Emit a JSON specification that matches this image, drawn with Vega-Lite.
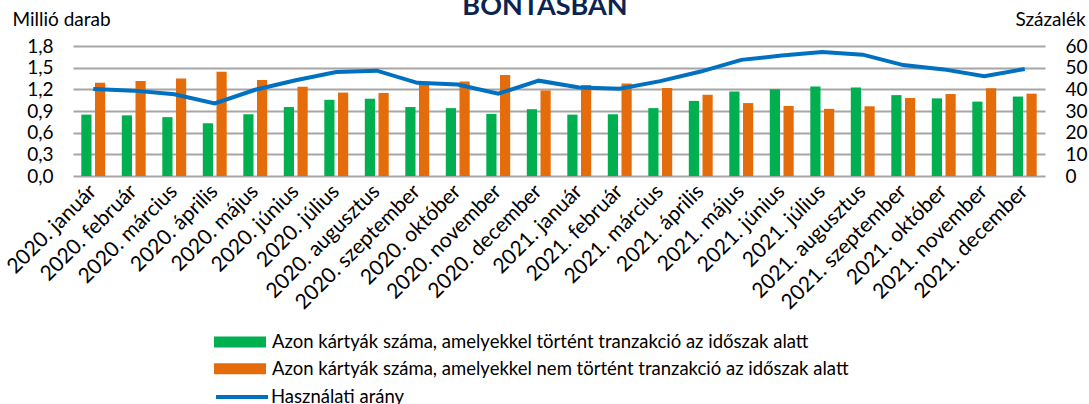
{
  "$schema": "https://vega.github.io/schema/vega-lite/v6.json",
  "width": 972,
  "height": 130,
  "autosize": {"type": "none"},
  "padding": {"left": 73, "top": 46, "right": 44, "bottom": 228},
  "background": "white",
  "config": {
    "font": "Lato",
    "view": {"stroke": null}
  },
  "title": {
    "text": "BONTÁSBAN",
    "fontSize": 27,
    "fontWeight": "bold",
    "color": "#0b2350",
    "font": "Lato",
    "anchor": "middle",
    "frame": "group",
    "baseline": "alphabetic",
    "offset": -32,
    "dx": -14
  },
  "datasets": {
    "bars": [
      {"month": "2020. január", "series": "Azon kártyák száma, amelyekkel történt tranzakció az időszak alatt", "value": 0.85},
      {"month": "2020. január", "series": "Azon kártyák száma, amelyekkel nem történt tranzakció az időszak alatt", "value": 1.29},
      {"month": "2020. február", "series": "Azon kártyák száma, amelyekkel történt tranzakció az időszak alatt", "value": 0.84},
      {"month": "2020. február", "series": "Azon kártyák száma, amelyekkel nem történt tranzakció az időszak alatt", "value": 1.315},
      {"month": "2020. március", "series": "Azon kártyák száma, amelyekkel történt tranzakció az időszak alatt", "value": 0.815},
      {"month": "2020. március", "series": "Azon kártyák száma, amelyekkel nem történt tranzakció az időszak alatt", "value": 1.35},
      {"month": "2020. április", "series": "Azon kártyák száma, amelyekkel történt tranzakció az időszak alatt", "value": 0.73},
      {"month": "2020. április", "series": "Azon kártyák száma, amelyekkel nem történt tranzakció az időszak alatt", "value": 1.445},
      {"month": "2020. május", "series": "Azon kártyák száma, amelyekkel történt tranzakció az időszak alatt", "value": 0.855},
      {"month": "2020. május", "series": "Azon kártyák száma, amelyekkel nem történt tranzakció az időszak alatt", "value": 1.33},
      {"month": "2020. június", "series": "Azon kártyák száma, amelyekkel történt tranzakció az időszak alatt", "value": 0.955},
      {"month": "2020. június", "series": "Azon kártyák száma, amelyekkel nem történt tranzakció az időszak alatt", "value": 1.235},
      {"month": "2020. július", "series": "Azon kártyák száma, amelyekkel történt tranzakció az időszak alatt", "value": 1.055},
      {"month": "2020. július", "series": "Azon kártyák száma, amelyekkel nem történt tranzakció az időszak alatt", "value": 1.155},
      {"month": "2020. augusztus", "series": "Azon kártyák száma, amelyekkel történt tranzakció az időszak alatt", "value": 1.07},
      {"month": "2020. augusztus", "series": "Azon kártyák száma, amelyekkel nem történt tranzakció az időszak alatt", "value": 1.15},
      {"month": "2020. szeptember", "series": "Azon kártyák száma, amelyekkel történt tranzakció az időszak alatt", "value": 0.955},
      {"month": "2020. szeptember", "series": "Azon kártyák száma, amelyekkel nem történt tranzakció az időszak alatt", "value": 1.275},
      {"month": "2020. október", "series": "Azon kártyák száma, amelyekkel történt tranzakció az időszak alatt", "value": 0.94},
      {"month": "2020. október", "series": "Azon kártyák száma, amelyekkel nem történt tranzakció az időszak alatt", "value": 1.31},
      {"month": "2020. november", "series": "Azon kártyák száma, amelyekkel történt tranzakció az időszak alatt", "value": 0.86},
      {"month": "2020. november", "series": "Azon kártyák száma, amelyekkel nem történt tranzakció az időszak alatt", "value": 1.4},
      {"month": "2020. december", "series": "Azon kártyák száma, amelyekkel történt tranzakció az időszak alatt", "value": 0.925},
      {"month": "2020. december", "series": "Azon kártyák száma, amelyekkel nem történt tranzakció az időszak alatt", "value": 1.185},
      {"month": "2021. január", "series": "Azon kártyák száma, amelyekkel történt tranzakció az időszak alatt", "value": 0.85},
      {"month": "2021. január", "series": "Azon kártyák száma, amelyekkel nem történt tranzakció az időszak alatt", "value": 1.26},
      {"month": "2021. február", "series": "Azon kártyák száma, amelyekkel történt tranzakció az időszak alatt", "value": 0.855},
      {"month": "2021. február", "series": "Azon kártyák száma, amelyekkel nem történt tranzakció az időszak alatt", "value": 1.28},
      {"month": "2021. március", "series": "Azon kártyák száma, amelyekkel történt tranzakció az időszak alatt", "value": 0.94},
      {"month": "2021. március", "series": "Azon kártyák száma, amelyekkel nem történt tranzakció az időszak alatt", "value": 1.22},
      {"month": "2021. április", "series": "Azon kártyák száma, amelyekkel történt tranzakció az időszak alatt", "value": 1.04},
      {"month": "2021. április", "series": "Azon kártyák száma, amelyekkel nem történt tranzakció az időszak alatt", "value": 1.125},
      {"month": "2021. május", "series": "Azon kártyák száma, amelyekkel történt tranzakció az időszak alatt", "value": 1.17},
      {"month": "2021. május", "series": "Azon kártyák száma, amelyekkel nem történt tranzakció az időszak alatt", "value": 1.01},
      {"month": "2021. június", "series": "Azon kártyák száma, amelyekkel történt tranzakció az időszak alatt", "value": 1.2},
      {"month": "2021. június", "series": "Azon kártyák száma, amelyekkel nem történt tranzakció az időszak alatt", "value": 0.97},
      {"month": "2021. július", "series": "Azon kártyák száma, amelyekkel történt tranzakció az időszak alatt", "value": 1.24},
      {"month": "2021. július", "series": "Azon kártyák száma, amelyekkel nem történt tranzakció az időszak alatt", "value": 0.93},
      {"month": "2021. augusztus", "series": "Azon kártyák száma, amelyekkel történt tranzakció az időszak alatt", "value": 1.225},
      {"month": "2021. augusztus", "series": "Azon kártyák száma, amelyekkel nem történt tranzakció az időszak alatt", "value": 0.965},
      {"month": "2021. szeptember", "series": "Azon kártyák száma, amelyekkel történt tranzakció az időszak alatt", "value": 1.12},
      {"month": "2021. szeptember", "series": "Azon kártyák száma, amelyekkel nem történt tranzakció az időszak alatt", "value": 1.08},
      {"month": "2021. október", "series": "Azon kártyák száma, amelyekkel történt tranzakció az időszak alatt", "value": 1.075},
      {"month": "2021. október", "series": "Azon kártyák száma, amelyekkel nem történt tranzakció az időszak alatt", "value": 1.135},
      {"month": "2021. november", "series": "Azon kártyák száma, amelyekkel történt tranzakció az időszak alatt", "value": 1.03},
      {"month": "2021. november", "series": "Azon kártyák száma, amelyekkel nem történt tranzakció az időszak alatt", "value": 1.215},
      {"month": "2021. december", "series": "Azon kártyák száma, amelyekkel történt tranzakció az időszak alatt", "value": 1.1},
      {"month": "2021. december", "series": "Azon kártyák száma, amelyekkel nem történt tranzakció az időszak alatt", "value": 1.14}
    ],
    "rate": [
      {"month": "2020. január", "rate": 40.2},
      {"month": "2020. február", "rate": 39.4},
      {"month": "2020. március", "rate": 37.7},
      {"month": "2020. április", "rate": 33.5},
      {"month": "2020. május", "rate": 39.8},
      {"month": "2020. június", "rate": 44.2},
      {"month": "2020. július", "rate": 48.0},
      {"month": "2020. augusztus", "rate": 48.6},
      {"month": "2020. szeptember", "rate": 43.0},
      {"month": "2020. október", "rate": 42.2},
      {"month": "2020. november", "rate": 38.0},
      {"month": "2020. december", "rate": 44.0},
      {"month": "2021. január", "rate": 40.9},
      {"month": "2021. február", "rate": 40.3},
      {"month": "2021. március", "rate": 43.8},
      {"month": "2021. április", "rate": 48.2},
      {"month": "2021. május", "rate": 53.6},
      {"month": "2021. június", "rate": 55.6},
      {"month": "2021. július", "rate": 57.2},
      {"month": "2021. augusztus", "rate": 56.0},
      {"month": "2021. szeptember", "rate": 51.2},
      {"month": "2021. október", "rate": 49.2},
      {"month": "2021. november", "rate": 46.0},
      {"month": "2021. december", "rate": 49.4}
    ]
  },
  "encoding": {
    "x": {
      "field": "month",
      "type": "nominal",
      "sort": null,
      "scale": {"paddingInner": 0.41, "paddingOuter": 0.205},
      "axis": {
        "title": null,
        "labelAngle": -45,
        "labelAlign": "right",
        "labelBaseline": "middle",
        "labelFontSize": 21,
        "labelColor": "#000000",
        "labelPadding": 12,
        "labelFont": "Lato",
        "labelLimit": 300,
        "labelOverlap": false,
        "ticks": false,
        "domain": false
      }
    }
  },
  "layer": [
    {
      "data": {"name": "bars"},
      "mark": {"type": "bar"},
      "encoding": {
        "xOffset": {"field": "series", "type": "nominal", "sort": null, "scale": {"paddingInner": 0.255}},
        "y": {
          "field": "value",
          "type": "quantitative",
          "scale": {"domain": [0, 1.8]},
          "axis": {
            "title": "Millió darab",
            "titleAngle": 0,
            "titleAlign": "left",
            "titleBaseline": "alphabetic",
            "titleX": -61,
            "titleY": -21,
            "titleFontSize": 19,
            "titleFontWeight": "normal",
            "titleColor": "#000000",
            "values": [0, 0.3, 0.6, 0.9, 1.2, 1.5, 1.8],
            "labelExpr": "replace(format(datum.value, '.1f'), '.', ',')",
            "labelFontSize": 19,
            "labelColor": "#000000",
            "labelPadding": 20,
            "ticks": false,
            "domain": false,
            "grid": true,
            "gridColor": "#a6a6a6",
            "gridWidth": 2
          }
        },
        "color": {
          "field": "series",
          "type": "nominal",
          "sort": null,
          "scale": {"range": ["#00b050", "#e46c0a"]},
          "legend": {
            "title": null,
            "orient": "none",
            "legendX": 157,
            "legendY": 286,
            "direction": "vertical",
            "symbolType": "M-2.6,-0.55H2.6V0.55H-2.6Z",
            "symbolSize": 400,
            "symbolStrokeWidth": 0,
            "labelOffset": 22,
            "labelFontSize": 18.5,
            "labelColor": "#000000",
            "labelLimit": 800,
            "rowPadding": 6.7
          }
        }
      }
    },
    {
      "data": {"name": "rate"},
      "mark": {"type": "line", "strokeWidth": 4, "interpolate": "linear"},
      "encoding": {
        "y": {
          "field": "rate",
          "type": "quantitative",
          "scale": {"domain": [0, 60]},
          "axis": {
            "orient": "right",
            "title": "Százalék",
            "titleAngle": 0,
            "titleAlign": "left",
            "titleBaseline": "alphabetic",
            "titleX": -30,
            "titleY": -21,
            "titleFontSize": 19,
            "titleFontWeight": "normal",
            "titleColor": "#000000",
            "values": [0, 10, 20, 30, 40, 50, 60],
            "labelAlign": "left",
            "labelFontSize": 19,
            "labelColor": "#000000",
            "labelPadding": 20,
            "ticks": false,
            "domain": false,
            "grid": false
          }
        },
        "stroke": {
          "datum": "Használati arány",
          "type": "nominal",
          "scale": {"range": ["#0070c0"]},
          "legend": {
            "title": null,
            "orient": "none",
            "legendX": 157,
            "legendY": 339,
            "symbolType": "M-2.6,0H2.6",
            "symbolSize": 400,
            "symbolStrokeWidth": 4,
            "labelOffset": 17,
            "labelFontSize": 18.5,
            "labelColor": "#000000",
            "labelLimit": 800
          }
        }
      }
    }
  ],
  "resolve": {"scale": {"y": "independent"}}
}
